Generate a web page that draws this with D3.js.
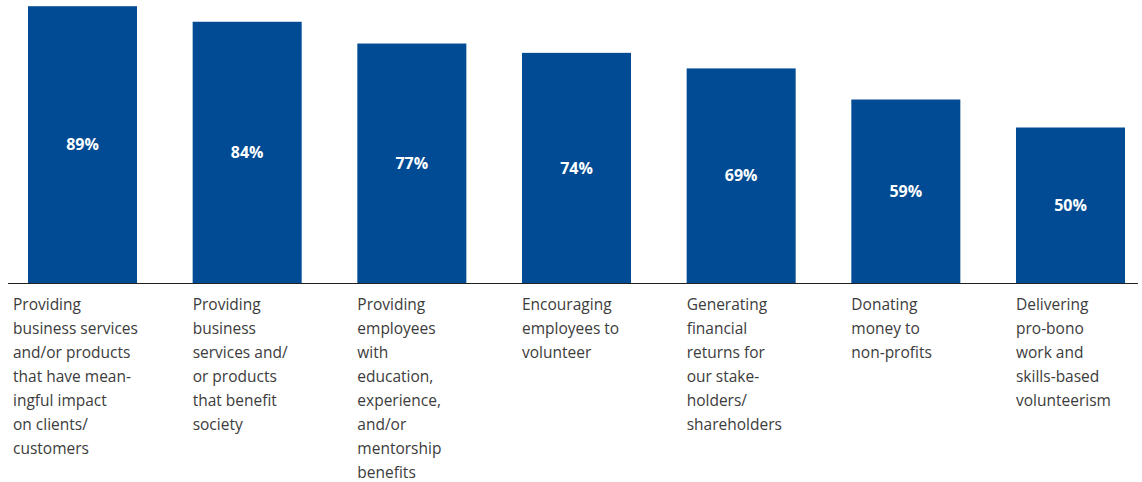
<!DOCTYPE html>
<html>
<head>
<meta charset="utf-8">
<script src="https://cdn.jsdelivr.net/npm/d3@7"></script>
<style>
  html, body { margin: 0; padding: 0; background: #ffffff; }
  svg { display: block; }
</style>
</head>
<body>
<svg id="chart" width="1142" height="482"></svg>
<script>
// Share of respondents citing each activity
const categories = [
  "Providing business services and/or products that have meaningful impact on clients/customers",
  "Providing business services and/or products that benefit society",
  "Providing employees with education, experience, and/or mentorship benefits",
  "Encouraging employees to volunteer",
  "Generating financial returns for our stakeholders/shareholders",
  "Donating money to non-profits",
  "Delivering pro-bono work and skills-based volunteerism"
];
const values = [89, 84, 77, 74, 69, 59, 50];

// Category labels broken into lines as typeset under each bar
const labelLines = [
  ["Providing", "business services", "and/or products", "that have mean-", "ingful impact", "on clients/", "customers"],
  ["Providing", "business", "services and/", "or products", "that benefit", "society"],
  ["Providing", "employees", "with", "education,", "experience,", "and/or", "mentorship", "benefits"],
  ["Encouraging", "employees to", "volunteer"],
  ["Generating", "financial", "returns for", "our stake-", "holders/", "shareholders"],
  ["Donating", "money to", "non-profits"],
  ["Delivering", "pro-bono", "work and", "skills-based", "volunteerism"]
];

const svg = d3.select("#chart");
const baseline = 283;

const x = d3.scaleBand()
  .domain(categories)
  .range([28, 1125])
  .paddingInner(0.338)
  .paddingOuter(0);

const y = d3.scaleLinear()
  .domain([0, 100])
  .range([baseline, baseline - 311]);

const data = categories.map((c, i) => ({ cat: c, value: values[i], lines: labelLines[i] }));

// Bars
svg.append("g")
  .selectAll("rect")
  .data(data)
  .join("rect")
  .attr("x", d => x(d.cat))
  .attr("y", d => y(d.value))
  .attr("width", x.bandwidth())
  .attr("height", d => y(0) - y(d.value))
  .attr("fill", "#004b93");

// Value labels centred in each bar
svg.append("g")
  .selectAll("text")
  .data(data)
  .join("text")
  .attr("x", d => x(d.cat) + x.bandwidth() / 2)
  .attr("y", d => (y(d.value) + y(0)) / 2)
  .attr("dy", "0.35em")
  .attr("text-anchor", "middle")
  .attr("fill", "#ffffff")
  .attr("font-family", "'Open Sans', 'Noto Sans', sans-serif")
  .attr("font-weight", "bold")
  .attr("font-size", 16)
  .text(d => d.value + "%");

// Baseline
svg.append("line")
  .attr("x1", 8)
  .attr("x2", 1138)
  .attr("y1", baseline + 0.5)
  .attr("y2", baseline + 0.5)
  .attr("stroke", "#222222")
  .attr("stroke-width", 1.2);

// Category labels
const labels = svg.append("g")
  .selectAll("text")
  .data(data)
  .join("text")
  .attr("x", (d, i) => i === 0 ? 13 : x(d.cat))
  .attr("y", 310)
  .attr("fill", "#3c3c3c")
  .attr("font-family", "'Open Sans', 'Noto Sans', sans-serif")
  .attr("font-size", 15.5);

labels.selectAll("tspan")
  .data(d => d.lines.map(t => ({ t, x: null })))
  .join("tspan")
  .attr("x", function () { return d3.select(this.parentNode).attr("x"); })
  .attr("dy", (d, i) => i === 0 ? 0 : 24)
  .text(d => d.t);
</script>
</body>
</html>
